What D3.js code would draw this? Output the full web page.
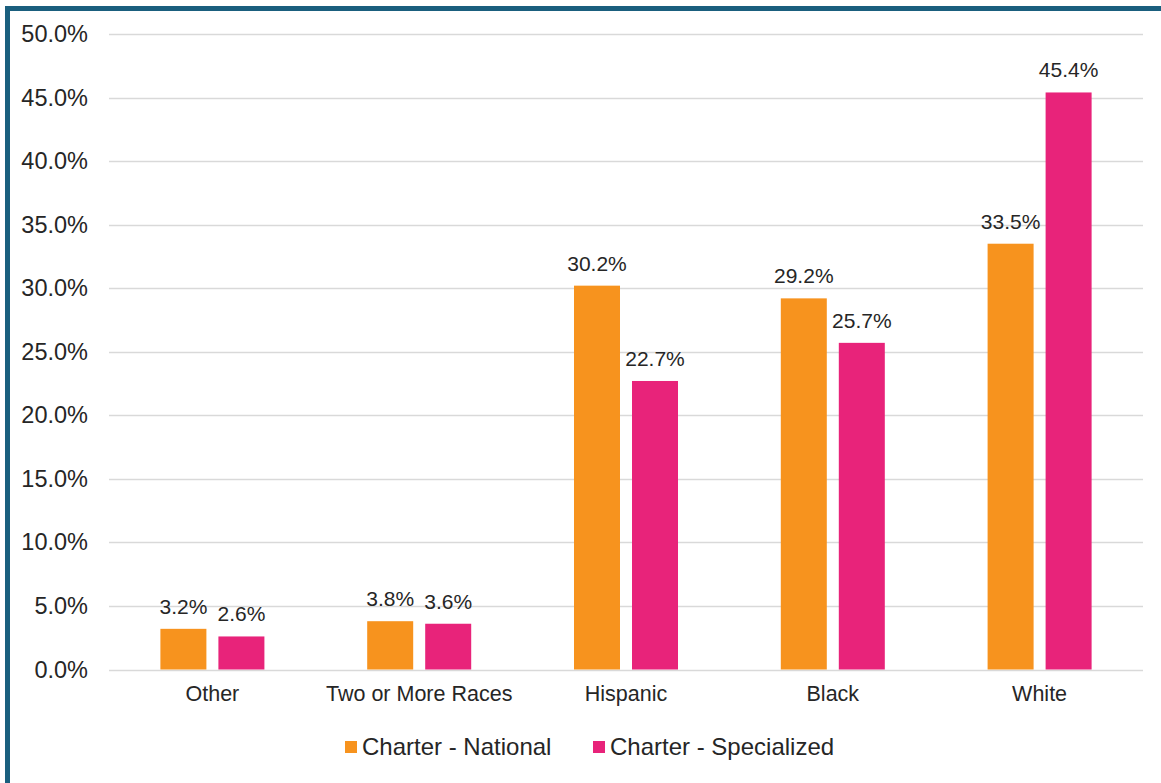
<!DOCTYPE html>
<meta charset="utf-8">
<html lang="en">
  <head>
    <style>
      body { margin: 0; background-color: #fff; }
      svg text { font-family: "Liberation Sans", Arial, sans-serif; fill: #262626; }
      .grid line { stroke: #d9d9d9; stroke-width: 1.3px; }
    </style>
  </head>
  <body>
    <svg></svg>
    <script src="https://cdn.jsdelivr.net/npm/d3@7"></script>
    <script>

      var categories = ["Other", "Two or More Races", "Hispanic", "Black", "White"];
      var seriesNames = ["Charter - National", "Charter - Specialized"];
      var national = [3.2, 3.8, 30.2, 29.2, 33.5];
      var specialized = [2.6, 3.6, 22.7, 25.7, 45.4];
      var yTicks = [0, 5, 10, 15, 20, 25, 30, 35, 40, 45, 50];
      var colors = ["#f7931e", "#e8237a"];

      var width = 1161, height = 783;

      var svg = d3.select("svg")
        .attr("width", width)
        .attr("height", height);

      // frame
      svg.append("rect")
        .attr("x", 7.5).attr("y", 8.5)
        .attr("width", 1165).attr("height", 777)
        .attr("fill", "none")
        .attr("stroke", "#1a5f7e")
        .attr("stroke-width", 5);

      var x0 = d3.scaleBand().domain(categories).range([109, 1143]).padding(0);
      var x1 = d3.scaleBand().domain(seriesNames).range([0, x0.bandwidth()])
        .paddingInner(0.207).paddingOuter(0.886);
      var y = d3.scaleLinear().domain([0, 50]).range([669.5, 34]);

      // gridlines
      svg.append("g").attr("class", "grid")
        .selectAll("line")
        .data(yTicks)
        .enter().append("line")
        .attr("x1", 109).attr("x2", 1143)
        .attr("y1", function(d) { return Math.round(y(d)) + 0.5; })
        .attr("y2", function(d) { return Math.round(y(d)) + 0.5; });

      // y axis labels
      var yAxis = d3.axisLeft(y).tickValues(yTicks)
        .tickFormat(function(d) { return d.toFixed(1) + "%"; })
        .tickSize(0).tickPadding(21);
      var ga = svg.append("g").attr("transform", "translate(109,0)").call(yAxis);
      ga.select(".domain").remove();
      ga.selectAll("text").attr("font-size", 23.5).attr("font-family", null).attr("fill", "#262626");

      // x axis labels
      var xAxis = d3.axisBottom(x0).tickSize(0).tickPadding(16);
      var gx = svg.append("g").attr("transform", "translate(0,669.5)").call(xAxis);
      gx.select(".domain").remove();
      gx.selectAll("text").attr("font-size", 21.5).attr("font-family", null).attr("fill", "#262626");

      var rows = categories.map(function(c, i) {
        return { cat: c, vals: [national[i], specialized[i]] };
      });

      var groups = svg.append("g").selectAll("g")
        .data(rows)
        .enter().append("g")
        .attr("transform", function(d) { return "translate(" + x0(d.cat) + ",0)"; });

      var bars = groups.selectAll("g")
        .data(function(d) { return d.vals.map(function(v, j) { return { s: seriesNames[j], v: v, j: j }; }); })
        .enter().append("g");

      bars.append("rect")
        .attr("x", function(d) { return x1(d.s); })
        .attr("width", x1.bandwidth())
        .attr("y", function(d) { return y(d.v); })
        .attr("height", function(d) { return y(0) - y(d.v); })
        .attr("fill", function(d) { return colors[d.j]; });

      bars.append("text")
        .attr("x", function(d) { return x1(d.s) + x1.bandwidth() / 2; })
        .attr("y", function(d) { return y(d.v) - 15; })
        .attr("text-anchor", "middle")
        .attr("font-size", 21)
        .text(function(d) { return d.v.toFixed(1) + "%"; });

      // legend
      var legendX = [345, 593];
      var legend = svg.append("g").selectAll("g")
        .data(seriesNames)
        .enter().append("g")
        .attr("transform", function(d, i) { return "translate(" + legendX[i] + ",747)"; });

      legend.append("rect")
        .attr("x", 0).attr("y", -6)
        .attr("width", 12).attr("height", 12)
        .attr("fill", function(d, i) { return colors[i]; });

      legend.append("text")
        .attr("x", 17).attr("dy", "0.35em")
        .attr("font-size", 24)
        .text(function(d) { return d; });

    </script>
  </body>
</html>
